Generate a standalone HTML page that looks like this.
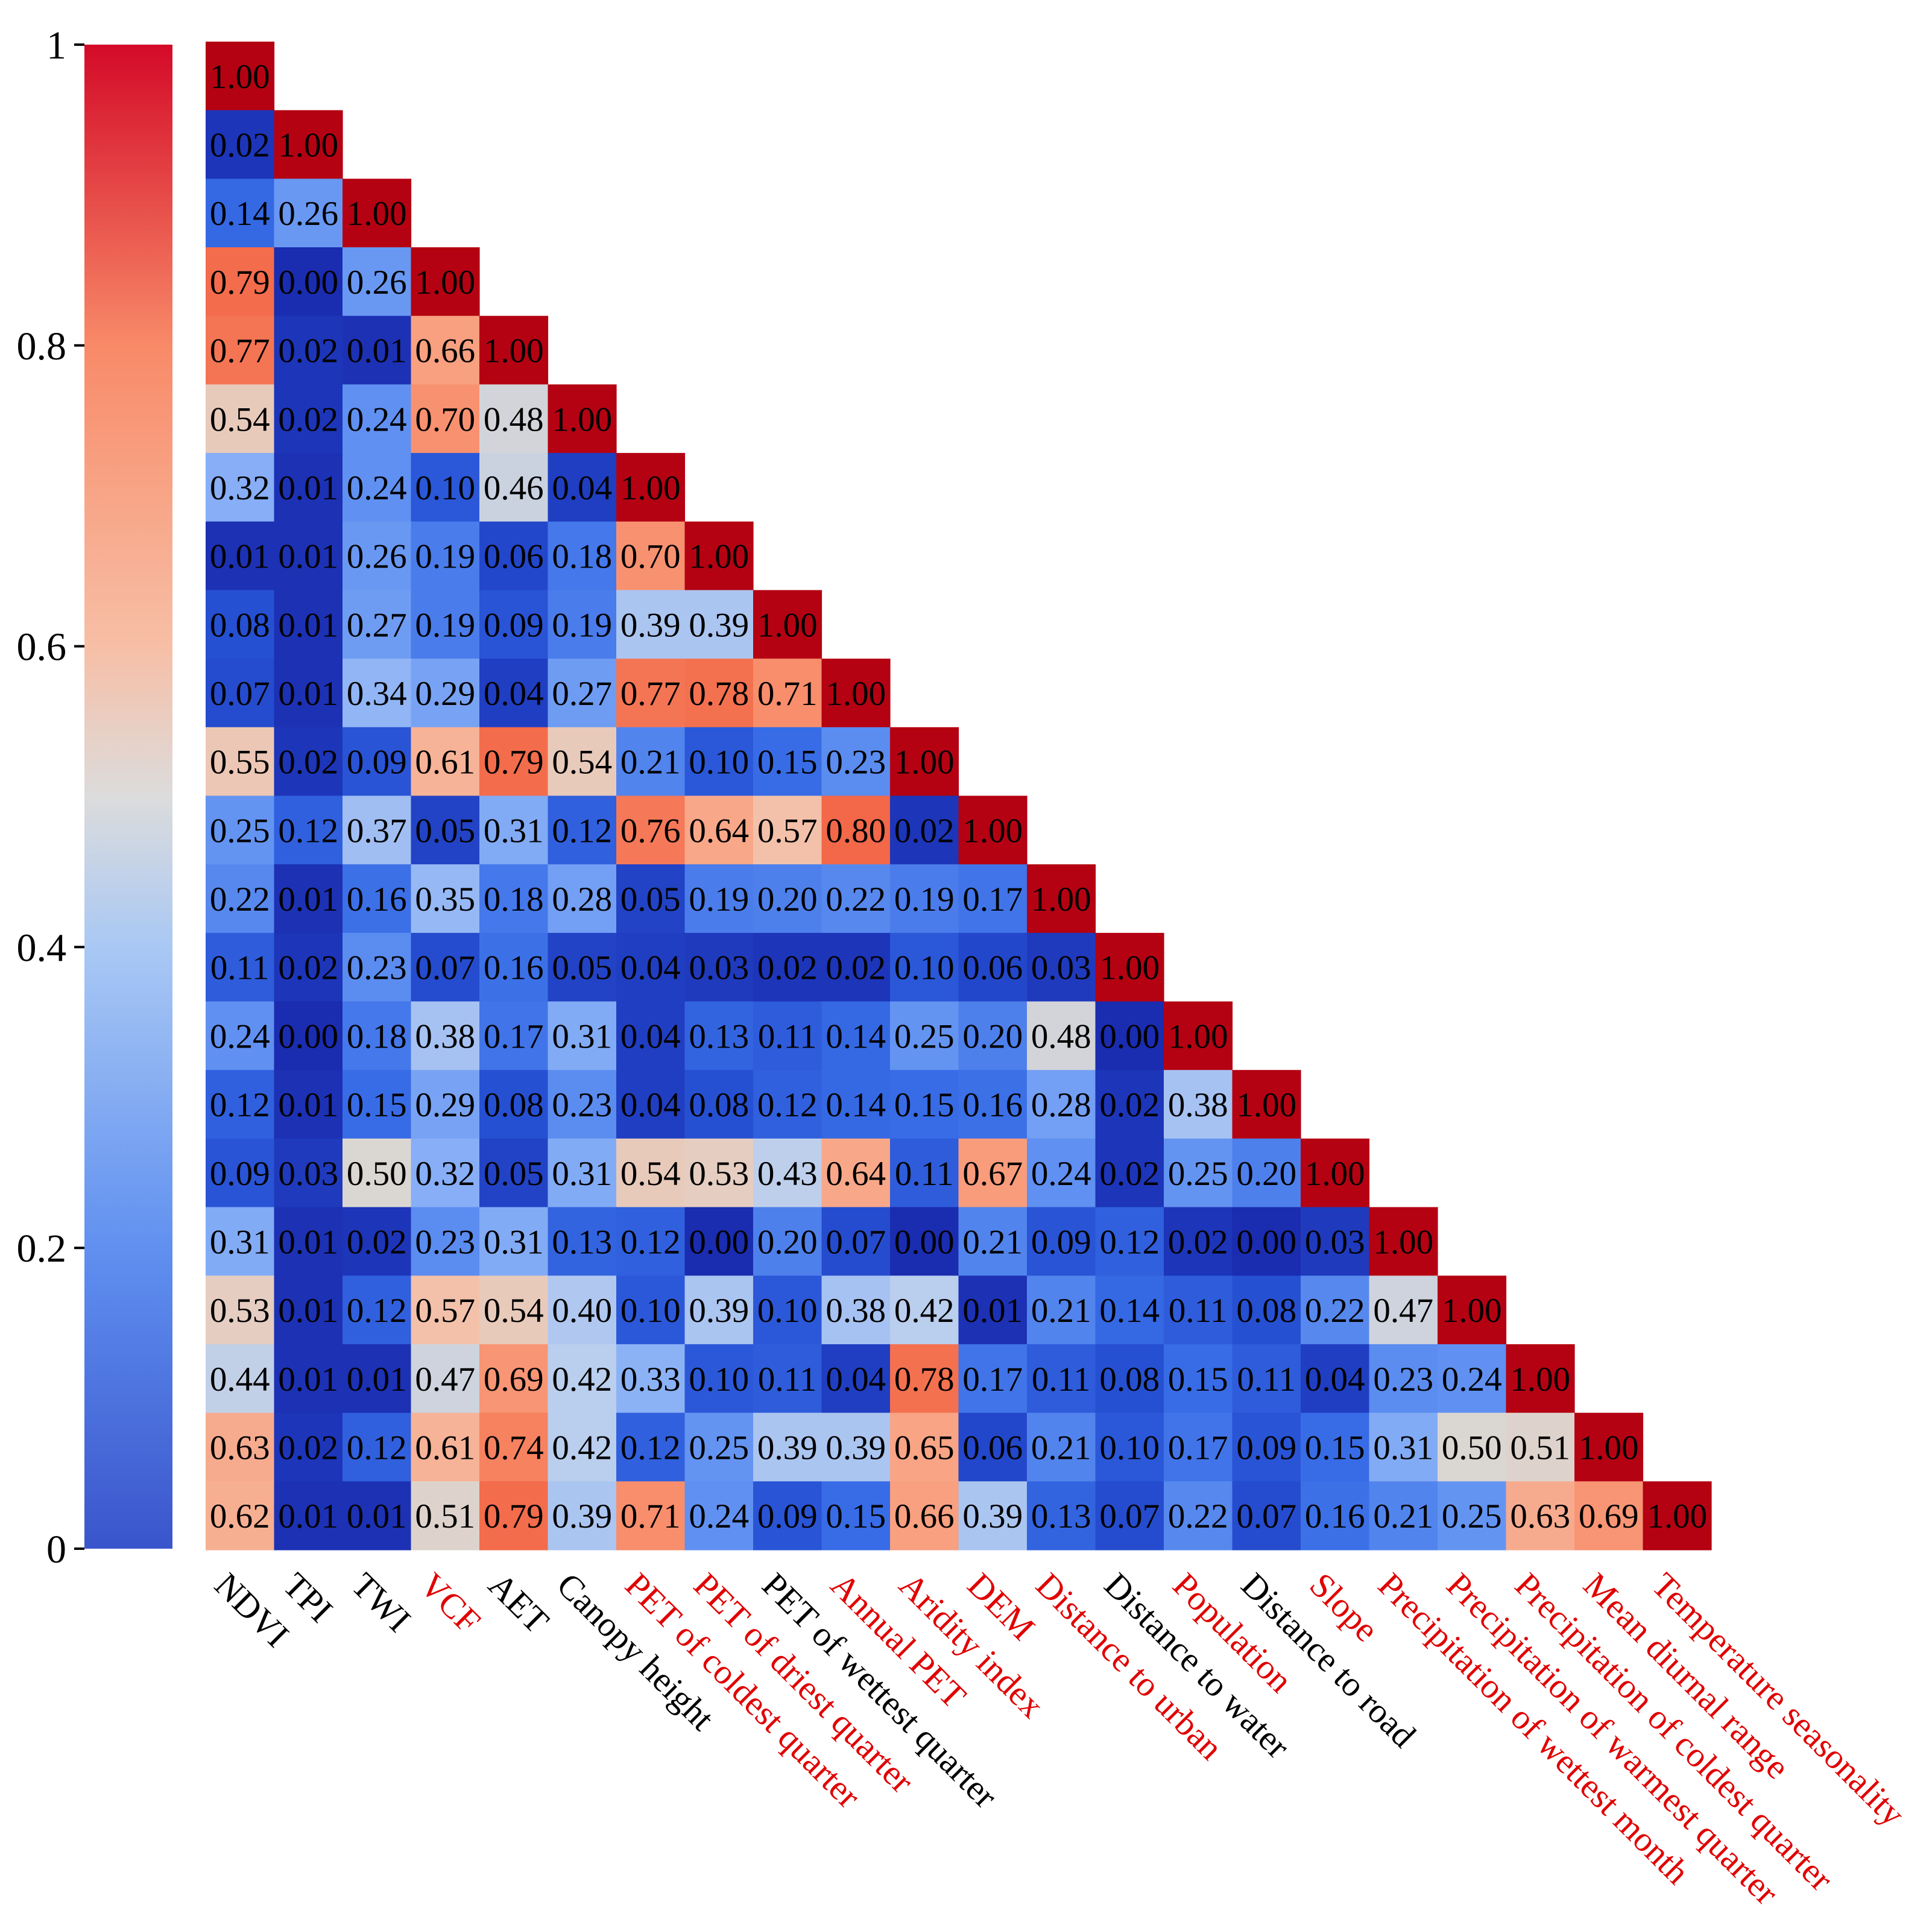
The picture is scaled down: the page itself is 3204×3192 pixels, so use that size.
<!DOCTYPE html>
<html><head><meta charset="utf-8"><style>
html,body{margin:0;padding:0;background:#fff;}
svg{display:block;font-family:"Liberation Serif",serif;}
</style></head><body>
<svg id="chart" width="3204" height="3192" viewBox="0 0 3204 3192" xmlns="http://www.w3.org/2000/svg">
<defs>
<linearGradient id="cbgrad" x1="0" y1="1" x2="0" y2="0">
<stop offset="0" stop-color="#3a55cc"/>
<stop offset="0.2" stop-color="#6090f0"/>
<stop offset="0.4" stop-color="#a9c8f4"/>
<stop offset="0.5" stop-color="#dcdcdc"/>
<stop offset="0.6" stop-color="#f7bfa6"/>
<stop offset="0.8" stop-color="#f88a68"/>
<stop offset="1" stop-color="#d40a28"/>
</linearGradient>
</defs>
<rect x="140" y="74" width="146" height="2494" fill="url(#cbgrad)"/>
<g id="cbticks"></g>
<g id="cells"></g>
<g id="xlabels"></g>
</svg>
<script>
const labels = ["NDVI","TPI","TWI","VCF","AET","Canopy height","PET of coldest quarter","PET of driest quarter","PET of wettest quarter","Annual PET","Aridity index","DEM","Distance to urban","Distance to water","Population","Distance to road","Slope","Precipitation of wettest month","Precipitation of warmest quarter","Precipitation of coldest quarter","Mean diurnal range","Temperature seasonality"];
const labelIsRed = [0,0,0,1,0,0,1,1,0,1,1,1,1,0,1,0,1,1,1,1,1,1];
const cbTicks = [0,0.2,0.4,0.6,0.8,1];
const cbTickLabels = ["0","0.2","0.4","0.6","0.8","1"];
const corr = [
[1.00],
[0.02,1.00],
[0.14,0.26,1.00],
[0.79,0.00,0.26,1.00],
[0.77,0.02,0.01,0.66,1.00],
[0.54,0.02,0.24,0.70,0.48,1.00],
[0.32,0.01,0.24,0.10,0.46,0.04,1.00],
[0.01,0.01,0.26,0.19,0.06,0.18,0.70,1.00],
[0.08,0.01,0.27,0.19,0.09,0.19,0.39,0.39,1.00],
[0.07,0.01,0.34,0.29,0.04,0.27,0.77,0.78,0.71,1.00],
[0.55,0.02,0.09,0.61,0.79,0.54,0.21,0.10,0.15,0.23,1.00],
[0.25,0.12,0.37,0.05,0.31,0.12,0.76,0.64,0.57,0.80,0.02,1.00],
[0.22,0.01,0.16,0.35,0.18,0.28,0.05,0.19,0.20,0.22,0.19,0.17,1.00],
[0.11,0.02,0.23,0.07,0.16,0.05,0.04,0.03,0.02,0.02,0.10,0.06,0.03,1.00],
[0.24,0.00,0.18,0.38,0.17,0.31,0.04,0.13,0.11,0.14,0.25,0.20,0.48,0.00,1.00],
[0.12,0.01,0.15,0.29,0.08,0.23,0.04,0.08,0.12,0.14,0.15,0.16,0.28,0.02,0.38,1.00],
[0.09,0.03,0.50,0.32,0.05,0.31,0.54,0.53,0.43,0.64,0.11,0.67,0.24,0.02,0.25,0.20,1.00],
[0.31,0.01,0.02,0.23,0.31,0.13,0.12,0.00,0.20,0.07,0.00,0.21,0.09,0.12,0.02,0.00,0.03,1.00],
[0.53,0.01,0.12,0.57,0.54,0.40,0.10,0.39,0.10,0.38,0.42,0.01,0.21,0.14,0.11,0.08,0.22,0.47,1.00],
[0.44,0.01,0.01,0.47,0.69,0.42,0.33,0.10,0.11,0.04,0.78,0.17,0.11,0.08,0.15,0.11,0.04,0.23,0.24,1.00],
[0.63,0.02,0.12,0.61,0.74,0.42,0.12,0.25,0.39,0.39,0.65,0.06,0.21,0.10,0.17,0.09,0.15,0.31,0.50,0.51,1.00],
[0.62,0.01,0.01,0.51,0.79,0.39,0.71,0.24,0.09,0.15,0.66,0.39,0.13,0.07,0.22,0.07,0.16,0.21,0.25,0.63,0.69,1.00]
];
const NS = "http://www.w3.org/2000/svg";
const X0 = 341, X1 = 2838, Y0 = 69, Y1 = 2570;
const n = labels.length;
const cw = (X1 - X0) / n, ch = (Y1 - Y0) / n;
function xPos(i){ return X0 + i * cw; }
function yPos(j){ return Y0 + j * ch; }
const CB0 = 2568, CB1 = 74;
function cbY(v){ return CB0 - v * (CB0 - CB1); }
const stops = [[0,[26,44,176]],[0.08,[38,80,210]],[0.15,[56,108,230]],[0.25,[100,148,242]],[0.33,[140,178,246]],[0.42,[186,206,238]],[0.5,[218,214,210]],[0.58,[246,190,164]],[0.66,[248,160,128]],[0.72,[248,138,104]],[0.8,[242,104,72]],[0.9,[218,50,44]],[1,[180,2,18]]];
function color(v){
  for(let k=1;k<stops.length;k++){
    if(v<=stops[k][0]){
      const a=stops[k-1], b=stops[k], t=(v-a[0])/(b[0]-a[0]);
      const c=a[1].map((q,i)=>Math.round(q+(b[1][i]-q)*t));
      return `rgb(${c[0]},${c[1]},${c[2]})`;
    }
  }
  return "rgb(180,2,18)";
}
const cells = document.getElementById("cells");
corr.forEach((row, r) => {
  row.forEach((v, c) => {
    const rect = document.createElementNS(NS, "rect");
    
    
    rect.setAttribute("x", xPos(c)); rect.setAttribute("y", yPos(r));
    rect.setAttribute("width", cw + 0.6); rect.setAttribute("height", ch + 0.6);
    rect.setAttribute("fill", color(v));
    cells.appendChild(rect);
    const t = document.createElementNS(NS, "text");
    
    
    t.setAttribute("x", xPos(c) + cw / 2); t.setAttribute("y", yPos(r) + ch / 2 + 20);
    t.setAttribute("text-anchor", "middle"); t.setAttribute("font-size", "57");
    t.setAttribute("fill", "#000");
    t.textContent = v.toFixed(2);
    cells.appendChild(t);
  });
});
const cbt = document.getElementById("cbticks");
cbTicks.forEach((v, i) => {
  const y = cbY(v);
  const l = document.createElementNS(NS, "line");
  
  
  l.setAttribute("x1", 123); l.setAttribute("x2", 140); l.setAttribute("y1", y); l.setAttribute("y2", y);
  l.setAttribute("stroke", "#000"); l.setAttribute("stroke-width", "4");
  cbt.appendChild(l);
  const t = document.createElementNS(NS, "text");
  
  
  t.setAttribute("x", 110); t.setAttribute("y", y + 23);
  t.setAttribute("text-anchor", "end"); t.setAttribute("font-size", "66");
  t.textContent = cbTickLabels[i];
  cbt.appendChild(t);
});
const xl = document.getElementById("xlabels");
labels.forEach((name, i) => {
  const x = xPos(i) + cw / 2 - 45, y = 2632;
  const t = document.createElementNS(NS, "text");
  
  
  t.setAttribute("x", x); t.setAttribute("y", y);
  t.setAttribute("transform", `rotate(45 ${x} ${y})`);
  t.setAttribute("font-size", "58");
  t.setAttribute("fill", labelIsRed[i] ? "#e00000" : "#000");
  t.textContent = name;
  xl.appendChild(t);
});
</script>
</body></html>
